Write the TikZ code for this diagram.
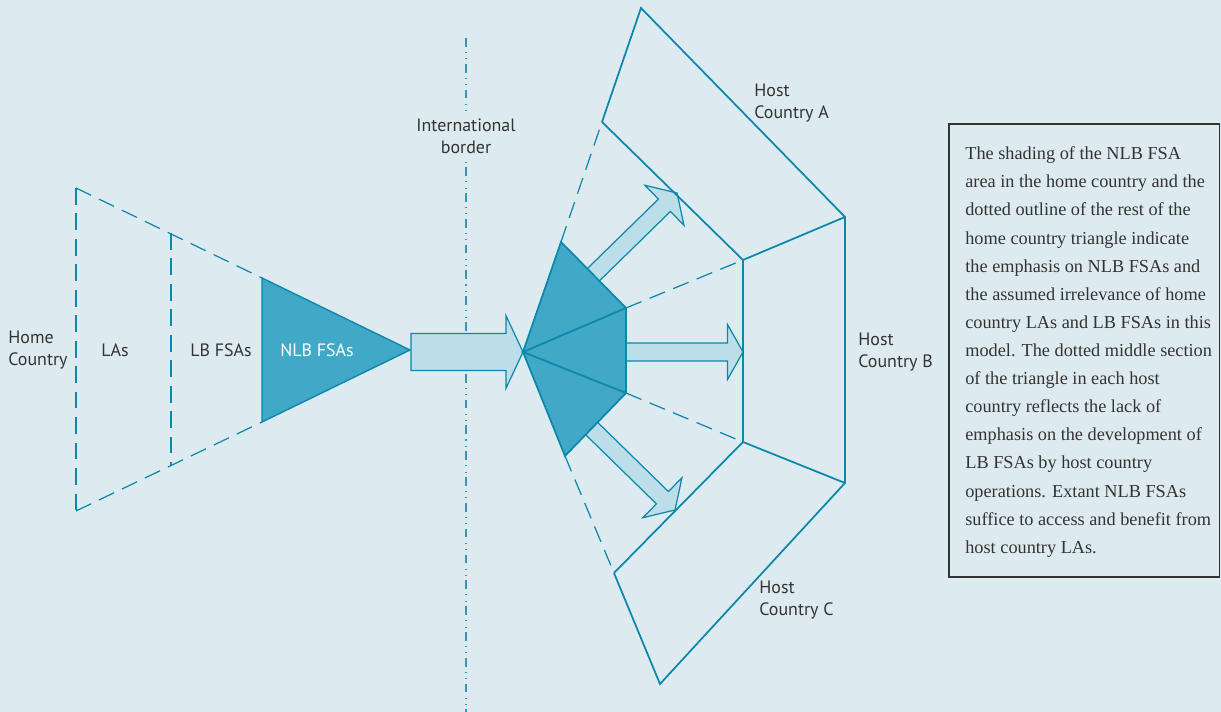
\documentclass[tikz,border=0pt]{standalone}
\usepackage{fontspec}
\setsansfont{PT Sans}
\newfontfamily\notefont{Liberation Serif}
\usetikzlibrary{calc}

\definecolor{bgblue}{HTML}{DDEBF0}
\definecolor{linecol}{HTML}{0D87AB}
\definecolor{nlbfill}{HTML}{41A9C7}
\definecolor{arrowfill}{HTML}{BCDEE8}
\definecolor{textgray}{HTML}{333333}

\tikzset{
  solidline/.style={draw=linecol, line width=1pt, line join=miter},
  dashline/.style={draw=linecol, line width=0.7pt, dash pattern=on 9.5pt off 5pt},
  borderline/.style={draw=linecol!85, line width=0.6pt,
    dash pattern=on 5pt off 3pt on 0.6pt off 3pt on 0.6pt off 2.5pt},
  blockarrow/.style={draw=linecol, fill=arrowfill, line width=0.7pt, line join=miter},
  nlbshape/.style={draw=linecol, fill=nlbfill, line width=1pt, line join=miter},
  label/.style={font=\sffamily\fontsize{10.2}{12.6}\selectfont, text=textgray, align=left, inner sep=0pt},
  notebox/.style={draw=black!80, line width=1.1pt},
  notetext/.style={font=\notefont\fontsize{10.4}{16}\selectfont, text=textgray, align=left, inner sep=0pt}
}

% block arrow: tail, tip, shaft half width, head half width, head length
\newcommand{\fatarrow}[5]{%
  \coordinate (neck) at ($(#2)!#5!(#1)$);
  \draw[blockarrow] ($(#1)!#3!90:(#2)$) -- ($(neck)!#3!90:(#2)$) -- ($(neck)!#4!90:(#2)$)
    -- (#2) -- ($(neck)!#4!-90:(#2)$) -- ($(neck)!#3!-90:(#2)$) -- ($(#1)!#3!-90:(#2)$) -- cycle;
}

\begin{document}
\begin{tikzpicture}[x=0.02cm, y=0.02cm]
\fill[bgblue] (0,0) rectangle (1221,712);
\useasboundingbox (0,0) rectangle (1221,712);

% international border
\coordinate (bordertop) at (466,674);
\coordinate (borderbot) at (466,0);
\draw[borderline] (bordertop) -- (borderbot);
\node[label, align=center, fill=bgblue, inner sep=3pt] (border) at (466,576) {International\\border};

% home country
\coordinate (ht) at (76,524);
\coordinate (hb) at (76,201);
\coordinate (mt) at (171,479);
\coordinate (mb) at (171,247);
\coordinate (nt) at (262,434);
\coordinate (nb) at (262,290);
\coordinate (hx) at (410,362);
\draw[dashline] (ht) -- (hb);
\draw[dashline] (mt) -- (mb);
\draw[dashline] (ht) -- (nt);
\draw[dashline] (hb) -- (nb);
\filldraw[nlbshape, line width=0.8pt] (nt) -- (hx) -- (nb) -- cycle;

% host countries
\coordinate (P) at (523,360);
\coordinate (a1) at (561,470);
\coordinate (b1) at (626,404);
\coordinate (b2) at (626,319);
\coordinate (c1) at (565,256);
\coordinate (a2) at (602,590);
\coordinate (ab2) at (743,452);
\coordinate (bc2) at (743,270);
\coordinate (c2) at (614,139);
\coordinate (a3) at (641,704);
\coordinate (ab3) at (845,495);
\coordinate (bc3) at (845,229);
\coordinate (c3) at (660,28);

% arrows
\coordinate (homeout) at (411,360);
\coordinate (upin) at (588,432);
\coordinate (uptip) at (677,519);
\coordinate (midin) at (620,360);
\coordinate (midtip) at (743,360);
\coordinate (lowin) at (588,287);
\coordinate (lowtip) at (675,202);
\fatarrow{homeout}{P}{10.5pt}{20.7pt}{9.7pt}
\fatarrow{upin}{uptip}{4.9pt}{15.9pt}{10pt}
\fatarrow{midin}{midtip}{5.1pt}{15.6pt}{8.8pt}
\fatarrow{lowin}{lowtip}{4.9pt}{15.9pt}{10pt}

\draw[solidline] (a2) -- (a3) -- (ab3) -- (bc3) -- (c3) -- (c2);
\draw[solidline] (a2) -- (ab2) -- (bc2) -- (c2);
\draw[solidline] (ab2) -- (ab3);
\draw[solidline] (bc2) -- (bc3);
\draw[dashline] (a1) -- (a2);
\draw[dashline] (b1) -- (ab2);
\draw[dashline] (b2) -- (bc2);
\draw[dashline] (c1) -- (c2);
\filldraw[nlbshape] (P) -- (a1) -- (b1) -- (b2) -- (c1) -- cycle;
\draw[solidline] (b1) -- (P) -- (b2);

% labels
\node[label, anchor=west] (home) at (8,362) {Home\\Country};
\node[label] (las) at (115,362) {LAs};
\node[label] (lbfsas) at (221,362) {LB FSAs};
\node[label, text=white] (nlbfsas) at (317,362) {NLB FSAs};
\node[label, anchor=west] (hosta) at (754,609) {Host\\Country A};
\node[label, anchor=west] (hostb) at (858,360) {Host\\Country B};
\node[label, anchor=west] (hostc) at (759,112) {Host\\Country C};

% note
\draw[notebox] (949,135) rectangle (1219.5,588);
\node[notetext, anchor=west] (note) at (965,360) {The shading of the NLB FSA\\
area in the home country and the\\
dotted outline of the rest of the\\
home country triangle indicate\\
the emphasis on NLB FSAs and\\
the assumed irrelevance of home\\
country LAs and LB FSAs in this\\
model. The dotted middle section\\
of the triangle in each host\\
country reflects the lack of\\
emphasis on the development of\\
LB FSAs by host country\\
operations. Extant NLB FSAs\\
suffice to access and benefit from\\
host country LAs.};
\end{tikzpicture}
\end{document}
